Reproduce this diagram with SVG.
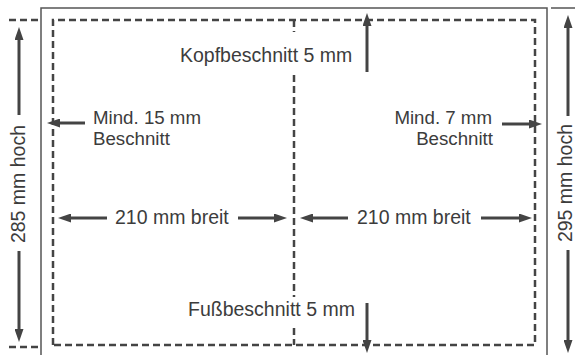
<svg xmlns="http://www.w3.org/2000/svg" width="575" height="355" viewBox="0 0 575 355">
<defs>
<marker id="ah" markerWidth="13" markerHeight="9" refX="3" refY="4.5" orient="auto" markerUnits="userSpaceOnUse">
<path d="M0,0 L13,4.5 L0,9 z" fill="#444"/>
</marker>
</defs>
<style>
.frame{fill:none;stroke:#555;stroke-width:1.5}
.dash{fill:none;stroke:#444;stroke-width:2.5;stroke-dasharray:7 4}
.arr{fill:none;stroke:#444;stroke-width:3;marker-end:url(#ah)}
.bg{fill:#fff}
text{font-family:"Liberation Sans",Arial,sans-serif;font-size:19.5px;fill:#3c3c3c}
.two{font-size:18.7px}
</style>
<rect width="575" height="355" fill="#fff"/>
<g id="frame">
<path class="frame" d="M41,355 V8 H547 V355"/>
<path class="frame" d="M551,8 H575"/>
</g>
<g id="trim">
<path class="dash" d="M53,345 V20 H535 V345 Z"/>
<path class="dash" d="M294,20 V345"/>
<path class="dash" d="M9,20 H38 M9,347 H38"/>
</g>
<g id="connectors">
<line class="arr" x1="19" y1="115" x2="19" y2="37"/>
<line class="arr" x1="19" y1="251" x2="19" y2="332"/>
<line class="arr" x1="568" y1="116" x2="568" y2="25"/>
<line class="arr" x1="568" y1="250" x2="568" y2="343"/>
<line class="arr" x1="367" y1="72" x2="367" y2="23"/>
<line class="arr" x1="367" y1="303" x2="367" y2="343"/>
<line class="arr" x1="85" y1="123" x2="57" y2="123"/>
<line class="arr" x1="502" y1="124" x2="532" y2="124"/>
<line class="arr" x1="107" y1="218" x2="68" y2="218"/>
<line class="arr" x1="238" y1="218" x2="277" y2="218"/>
<line class="arr" x1="348" y1="218" x2="310" y2="218"/>
<line class="arr" x1="481" y1="218" x2="522" y2="218"/>
</g>
<g id="kopf"><rect class="bg" x="178" y="32" width="178" height="42"/><text x="180" y="62">Kopfbeschnitt 5 mm</text></g>
<g id="fuss"><rect class="bg" x="186" y="297" width="170" height="30"/><text x="188" y="316">Fußbeschnitt 5 mm</text></g>
<g id="mind15"><text class="two" x="93" y="124">Mind. 15 mm</text><text class="two" x="93" y="145">Beschnitt</text></g>
<g id="mind7"><text class="two" x="492" y="124" text-anchor="end">Mind. 7 mm</text><text class="two" x="493" y="145" text-anchor="end">Beschnitt</text></g>
<g id="breit-left"><text x="115" y="224">210 mm breit</text></g>
<g id="breit-right"><text x="357" y="224">210 mm breit</text></g>
<g id="hoch-left"><text transform="translate(25,184) rotate(-90)" text-anchor="middle">285 mm hoch</text></g>
<g id="hoch-right"><text transform="translate(572,183) rotate(-90)" text-anchor="middle">295 mm hoch</text></g>
</svg>
